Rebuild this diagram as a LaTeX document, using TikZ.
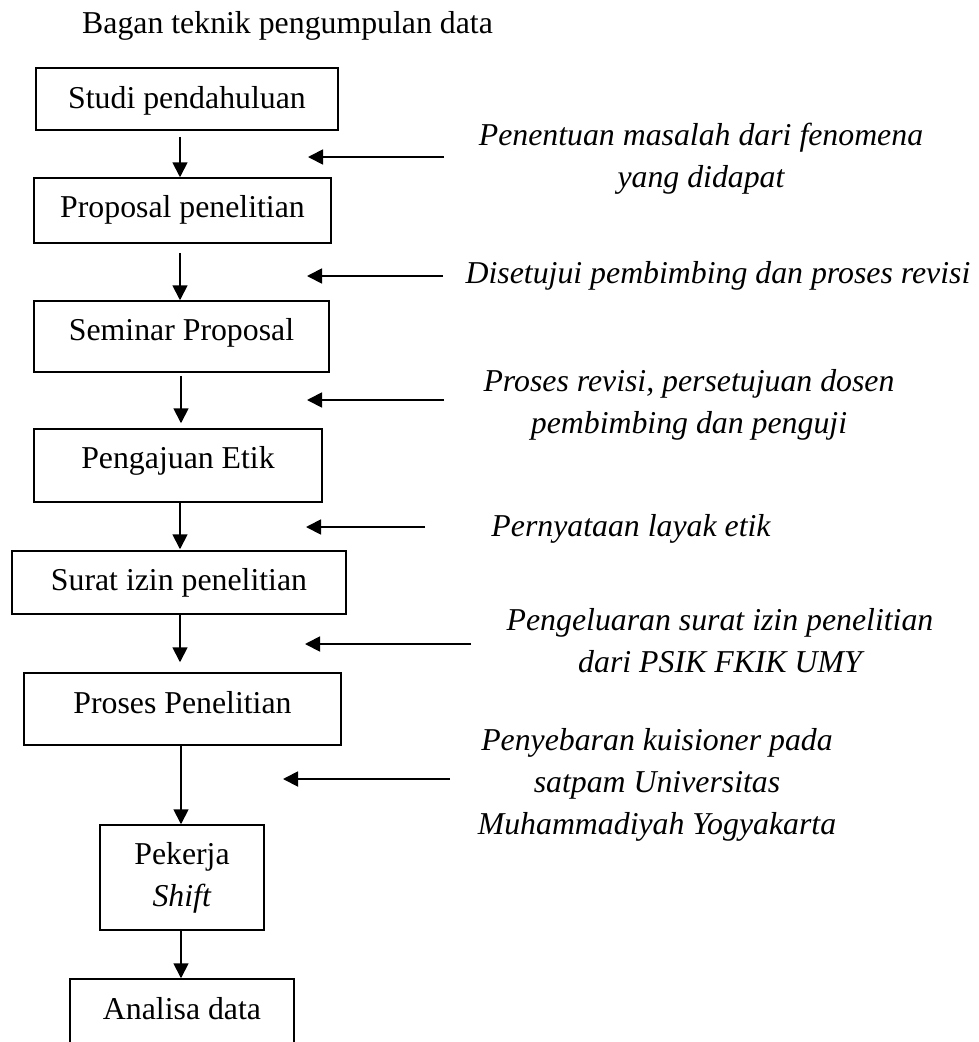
\documentclass[tikz,border=0pt]{standalone}
\usepackage{fontspec}
\setmainfont{Liberation Serif}
\usetikzlibrary{arrows.meta,calc}
\begin{document}
\begin{tikzpicture}[x=1pt,y=-1pt,
  every node/.style={font=\fontsize{31.8}{42}\selectfont},
  stepbox/.style={draw,line width=1.5pt,inner sep=0pt,anchor=base},
  arr/.style={line width=1.8pt,-{Triangle[length=15pt,width=15pt]}},
  lbl/.style={font=\fontsize{31.8}{42}\selectfont\itshape,align=center,anchor=base,inner sep=0pt}]
\useasboundingbox (0,0) rectangle (979,1042);
\node[anchor=base west,inner sep=0pt] (title) at (82,33) {Bagan teknik pengumpulan data};
% boxes
\node[stepbox,minimum width=302pt,text height=40pt,text depth=22pt] (b1) at (187,108) {Studi pendahuluan};
\node[stepbox,minimum width=297pt,text height=39pt,text depth=26pt] (b2) at (182.5,217) {Proposal penelitian};
\node[stepbox,minimum width=295pt,text height=39pt,text depth=32pt] (b3) at (181.5,340) {Seminar Proposal};
\node[stepbox,minimum width=288pt,text height=39pt,text depth=34pt] (b4) at (178,468) {Pengajuan Etik};
\node[stepbox,minimum width=334pt,text height=39pt,text depth=24pt] (b5) at (179,590) {Surat izin penelitian};
\node[stepbox,minimum width=317pt,text height=40pt,text depth=32pt] (b6) at (182.5,713) {Proses Penelitian};
\node[draw,line width=1.5pt,inner sep=0pt,align=center,minimum width=164pt,minimum height=105pt] (b7) at (182,877.5) {Pekerja\\\textit{Shift}};
\node[stepbox,minimum width=224pt,text height=40pt,text depth=70pt] (b8) at (182,1019) {Analisa data};
% vertical arrows
\coordinate (xa) at (180,0);
\coordinate (xb) at (181,0);
\draw[arr] ($(b1.south -| xa)+(0,6)$) -- (b2.north -| xa);
\draw[arr] ($(b2.south -| xa)+(0,9)$) -- (b3.north -| xa);
\draw[arr] ($(b3.south -| xb)+(0,3)$) -- ($(b4.north -| xb)+(0,-5)$);
\draw[arr] (b4.south -| xa) -- ($(b5.north -| xa)+(0,-1)$);
\draw[arr] (b5.south -| xa) -- ($(b6.north -| xa)+(0,-10)$);
\draw[arr] (b6.south -| xb) -- (b7.north -| xb);
\draw[arr] (b7.south -| xb) -- (b8.north -| xb);
% side arrows
\coordinate (s1a) at (444,157); \coordinate (s1b) at (308,157);
\coordinate (s2a) at (443,276); \coordinate (s2b) at (307,276);
\coordinate (s3a) at (444,400); \coordinate (s3b) at (307,400);
\coordinate (s4a) at (425,527); \coordinate (s4b) at (306,527);
\coordinate (s5a) at (471,644); \coordinate (s5b) at (305,644);
\coordinate (s6a) at (450,779); \coordinate (s6b) at (283,779);
\draw[arr] (s1a) -- (s1b);
\draw[arr] (s2a) -- (s2b);
\draw[arr] (s3a) -- (s3b);
\draw[arr] (s4a) -- (s4b);
\draw[arr] (s5a) -- (s5b);
\draw[arr] (s6a) -- (s6b);
% labels (base anchor = baseline of last line)
\node[lbl] (t1) at (701,187) {Penentuan masalah dari fenomena\\yang didapat};
\node[lbl] (t2) at (718,283) {Disetujui pembimbing dan proses revisi};
\node[lbl] (t3) at (689,433) {Proses revisi, persetujuan dosen\\pembimbing dan penguji};
\node[lbl] (t4) at (631,536) {Pernyataan layak etik};
\node[lbl] (t5) at (720,672) {Pengeluaran surat izin penelitian\\dari PSIK FKIK UMY};
\node[lbl] (t6) at (657,834) {Penyebaran kuisioner pada\\satpam Universitas\\Muhammadiyah Yogyakarta};
\end{tikzpicture}
\end{document}
